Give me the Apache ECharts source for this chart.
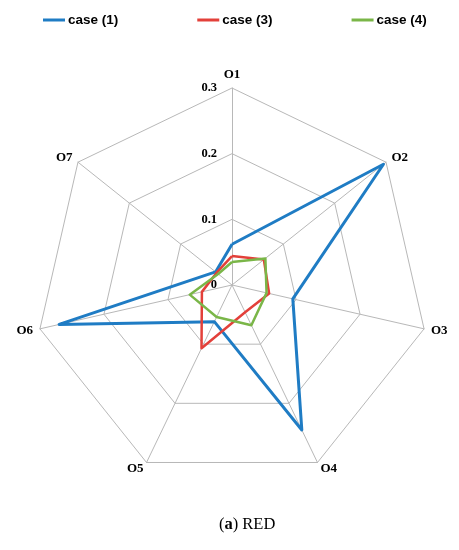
<!DOCTYPE html>
<html>
<head>
<meta charset="utf-8">
<script src="https://cdn.jsdelivr.net/npm/echarts@6/dist/echarts.min.js"></script>
<style>
html,body{margin:0;padding:0;background:#fff;}
#c{width:459px;height:550px;}
</style>
</head>
<body>
<div id="c"></div>
<script>
const indicators = ['O1','O2','O3','O4','O5','O6','O7'];
const seriesNames = ['case (1)','case (3)','case (4)'];
const case1 = [0.062, 0.295, 0.095, 0.245, 0.062, 0.270, 0.032];
const case3 = [0.044, 0.062, 0.058, 0.046, 0.107, 0.047, 0.030];
const case4 = [0.035, 0.065, 0.054, 0.068, 0.054, 0.066, 0.027];
const axisMax = 0.3;
const colors = ['#1f7cc4', '#e3403a', '#7ab648'];
const widths = [3, 2.5, 2.5];

// ECharts radar runs counter-clockwise; reorder so O1..O7 go clockwise
const order = [0, 6, 5, 4, 3, 2, 1];
const reorder = arr => order.map(i => arr[i]);

const chart = echarts.init(document.getElementById('c'), null, {renderer:'canvas'});
const valuesList = [case1, case3, case4];
chart.setOption({
  animation: false,
  backgroundColor: '#fff',
  title: {
    text: '{p|(}{b|a}{p|) RED}',
    left: 214,
    top: 511,
    textStyle: {
      fontWeight: 'normal',
      rich: {
        p: {fontFamily: 'Liberation Serif', fontSize: 16.5, fontWeight: 'normal', color: '#000'},
        b: {fontFamily: 'Liberation Serif', fontSize: 16.5, fontWeight: 'bold', color: '#000'}
      }
    }
  },
  legend: {
    top: 8,
    left: 38,
    itemGap: 79,
    itemWidth: 22,
    itemHeight: 3,
    icon: 'rect',
    selectedMode: false,
    data: seriesNames,
    textStyle: {fontFamily: 'Liberation Sans', fontWeight: 'bold', fontSize: 13.5, color: '#000', padding: [0,0,0,-2]}
  },
  radar: {
    center: [232, 285],
    radius: 197,
    startAngle: 90,
    shape: 'polygon',
    splitNumber: 3,
    nameGap: 7,
    axisName: {fontFamily: 'Liberation Serif', fontWeight: 'bold', fontSize: 13, color: '#000'},
    indicator: reorder(indicators).map((n, i) => {
      const o = {name: n, min: 0, max: axisMax};
      if (i === 0) {
        o.axisLabel = {show: true, fontFamily: 'Liberation Serif', fontWeight: 'bold', fontSize: 12.5, color: '#000', margin: 15,
          formatter: v => (v === 0 ? '0' : String(Math.round(v * 10) / 10))};
      }
      return o;
    }),
    axisLine: {lineStyle: {color: '#b8b8b8', width: 1}},
    splitLine: {lineStyle: {color: '#b8b8b8', width: 1}},
    splitArea: {show: false},
    axisTick: {show: false},
    axisLabel: {show: false}
  },
  series: [{
    type: 'radar',
    symbol: 'none',
    data: valuesList.map((vals, i) => ({
      name: seriesNames[i],
      value: reorder(vals),
      lineStyle: {color: colors[i], width: widths[i]},
      itemStyle: {color: colors[i]}
    }))
  }]
});
</script>
</body>
</html>
